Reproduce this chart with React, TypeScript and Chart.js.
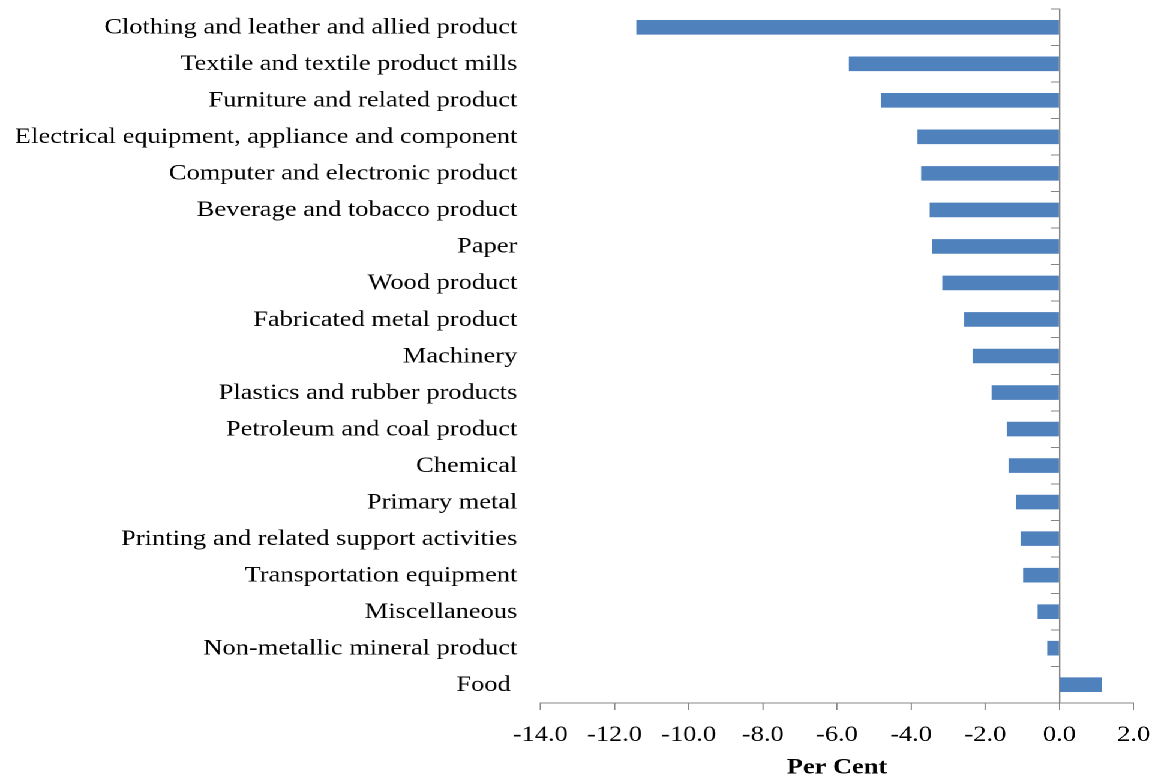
import React, { useEffect, useRef } from "react";
import { Chart, registerables } from "chart.js";

Chart.register(...registerables);

const categories: string[] = [
  "Clothing and leather and allied product",
  "Textile and textile product mills",
  "Furniture and related product",
  "Electrical equipment, appliance and component",
  "Computer and electronic product",
  "Beverage and tobacco product",
  "Paper",
  "Wood product",
  "Fabricated metal product",
  "Machinery",
  "Plastics and rubber products",
  "Petroleum and coal product",
  "Chemical",
  "Primary metal",
  "Printing and related support activities",
  "Transportation equipment",
  "Miscellaneous",
  "Non-metallic mineral product",
  "Food ",
];

const perCent: number[] = [
  -11.41, -5.68, -4.81, -3.83, -3.73, -3.5, -3.43, -3.16, -2.57, -2.34,
  -1.83, -1.42, -1.37, -1.17, -1.05, -0.98, -0.59, -0.33, 1.15,
];

const xMin = -14;
const xMax = 2;
const xStep = 2;
const axisTitle = "Per Cent";

// The reference image is stretched horizontally; render narrower and stretch.
const SX = 1.2;
const W = 1154 / SX;
const H = 781;

const FONT = "'Liberation Serif', 'Times New Roman', serif";
const GRAY = "#868686";

const zeroPad = (s: any) => {
  s.paddingTop = 0;
  s.paddingBottom = 0;
  s.paddingLeft = 0;
  s.paddingRight = 0;
};

export default function App() {
  const ref = useRef<HTMLCanvasElement | null>(null);

  useEffect(() => {
    if (!ref.current) return;
    const chart = new Chart(ref.current, {
      type: "bar",
      data: {
        labels: categories,
        datasets: [
          {
            data: perCent,
            backgroundColor: "#4F81BD",
            borderWidth: 0,
            categoryPercentage: 1,
            barPercentage: 0.4,
            yAxisID: "y",
          },
        ],
      },
      options: {
        indexAxis: "y",
        animation: false,
        responsive: true,
        maintainAspectRatio: false,
        devicePixelRatio: 2,
        layout: { padding: { top: 9, right: W - 1133 / SX, bottom: 0, left: 0 } },
        plugins: {
          legend: { display: false },
          tooltip: { enabled: false },
        },
        scales: {
          x: {
            type: "linear",
            position: "bottom",
            min: xMin,
            max: xMax,
            ticks: {
              stepSize: xStep,
              color: "#000",
              font: { family: FONT, size: 22 },
              padding: 12,
              callback: (v: any) => Number(v).toFixed(1),
            },
            grid: {
              drawOnChartArea: false,
              drawTicks: true,
              tickLength: 7,
              color: GRAY,
            },
            border: { display: true, color: GRAY, width: 1 },
            title: {
              display: true,
              text: axisTitle,
              color: "#000",
              font: { family: FONT, size: 22, weight: "bold" },
              padding: { top: 0, bottom: 0 },
            },
            afterFit: (s: any) => {
              s.height = H - 703;
              zeroPad(s);
            },
          },
          y: {
            type: "category",
            position: "left",
            offset: true,
            ticks: {
              color: "#000",
              font: { family: FONT, size: 22 },
              padding: 540 / SX - 517 / SX,
              labelOffset: 0.5,
              autoSkip: false,
            },
            grid: { display: false, drawTicks: false, tickLength: 0 },
            border: { display: false },
            afterFit: (s: any) => {
              s.width = 540 / SX;
              zeroPad(s);
            },
          },
          y2: {
            type: "category",
            axis: "y",
            position: { x: 0 },
            offset: true,
            ticks: { display: false },
            grid: {
              offset: true,
              drawOnChartArea: false,
              drawTicks: true,
              tickLength: 7,
              color: GRAY,
            },
            border: { display: true, color: GRAY, width: 1.2 },
            afterFit: (s: any) => {
              zeroPad(s);
            },
          },
        },
      } as any,
    });
    return () => chart.destroy();
  }, []);

  return (
    <div
      style={{
        position: "fixed",
        left: 0,
        top: 0,
        width: W,
        height: H,
        transform: `scaleX(${SX})`,
        transformOrigin: "0 0",
        background: "#fff",
      }}
    >
      <canvas ref={ref} />
    </div>
  );
}
